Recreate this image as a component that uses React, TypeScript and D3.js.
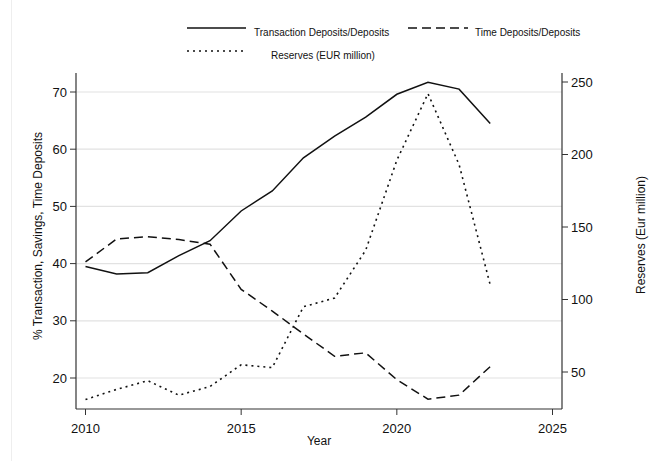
import React from "react";
import * as d3 from "d3";

const years = [2010, 2011, 2012, 2013, 2014, 2015, 2016, 2017, 2018, 2019, 2020, 2021, 2022, 2023];
const transaction = [39.5, 38.2, 38.4, 41.4, 44.0, 49.2, 52.7, 58.5, 62.3, 65.6, 69.6, 71.7, 70.5, 64.5];
const timeDeposits = [40.3, 44.3, 44.7, 44.2, 43.4, 35.5, 31.7, 27.7, 23.8, 24.4, 19.7, 16.3, 17.0, 22.0];
const reserves = [31, 38, 44, 34, 40, 55, 53, 95, 101, 134, 196, 242, 193, 110];
const xTicks = [2010, 2015, 2020, 2025];
const leftTicks = [20, 30, 40, 50, 60, 70];
const rightTicks = [50, 100, 150, 200, 250];

const W = 667, H = 461;
const left = 76, right = 562, bottom = 409, top = 73;

export default function App() {
  const x = d3.scaleLinear().domain([2010, 2025]).range([85.5, 552.5]);
  const yL = d3.scaleLinear().domain([20, 70]).range([378, 92]);
  const yR = d3.scaleLinear().domain([50, 250]).range([372, 82]);
  const lineL = d3.line<number>().x((_, i) => x(years[i])).y((d) => yL(d));
  const lineR = d3.line<number>().x((_, i) => x(years[i])).y((d) => yR(d));
  const font = "'Liberation Sans', Arial, Helvetica, sans-serif";
  return (
    <svg width={W} height={H} style={{ position: "absolute", left: 0, top: 0, background: "#fff" }} fontFamily={font}>
      <rect x={0} y={0} width={W} height={H} fill="#fff" />
      <line x1={11.5} x2={11.5} y1={0} y2={H} stroke="#eeeeee" />
      {leftTicks.map((t) => (
        <line key={"g" + t} x1={left} x2={right} y1={yL(t)} y2={yL(t)} stroke="#e2e2e2" strokeWidth={1.2} />
      ))}
      <path d={lineL(transaction) || ""} fill="none" stroke="#111" strokeWidth={1.5} />
      <path d={lineL(timeDeposits) || ""} fill="none" stroke="#111" strokeWidth={1.5} strokeDasharray="9,5" />
      <path d={lineR(reserves) || ""} fill="none" stroke="#111" strokeWidth={1.6} strokeDasharray="2,4" />
      {/* axes */}
      <line x1={left} x2={left} y1={top} y2={bottom} stroke="#333" strokeWidth={1.2} />
      <line x1={right} x2={right} y1={top} y2={bottom} stroke="#333" strokeWidth={1.2} />
      <line x1={left} x2={right} y1={bottom} y2={bottom} stroke="#333" strokeWidth={1.2} />
      {leftTicks.map((t) => (
        <g key={"l" + t}>
          <line x1={left - 6} x2={left} y1={yL(t)} y2={yL(t)} stroke="#333" />
          <text x={left - 9} y={yL(t)} dy="0.35em" textAnchor="end" fontSize={13} fill="#111">{t}</text>
        </g>
      ))}
      {rightTicks.map((t) => (
        <g key={"r" + t}>
          <line x1={right} x2={right + 6} y1={yR(t)} y2={yR(t)} stroke="#333" />
          <text x={right + 9} y={yR(t)} dy="0.35em" textAnchor="start" fontSize={13} fill="#111">{t}</text>
        </g>
      ))}
      {xTicks.map((t) => (
        <g key={"x" + t}>
          <line x1={x(t)} x2={x(t)} y1={bottom} y2={bottom + 6} stroke="#333" />
          <text x={x(t)} y={428} dy="0.35em" textAnchor="middle" fontSize={13} fill="#111">{t}</text>
        </g>
      ))}
      <text x={319} y={441} dy="0.35em" textAnchor="middle" fontSize={12} fill="#111">Year</text>
      <text transform={`translate(38,${236}) rotate(-90)`} textAnchor="middle" dy="0.35em" fontSize={12} fill="#111">
        % Transaction, Savings, Time Deposits
      </text>
      <text transform={`translate(641,${235}) rotate(-90)`} textAnchor="middle" dy="0.35em" fontSize={12} fill="#111">
        Reserves (Eur million)
      </text>
      {/* legend */}
      <line x1={187} x2={246} y1={28} y2={28} stroke="#111" strokeWidth={1.5} />
      <text x={254} y={32} dy="0.35em" fontSize={10} fill="#111">Transaction Deposits/Deposits</text>
      <line x1={408} x2={468} y1={28} y2={28} stroke="#111" strokeWidth={1.5} strokeDasharray="9,5" />
      <text x={475} y={32} dy="0.35em" fontSize={10} fill="#111">Time Deposits/Deposits</text>
      <line x1={187} x2={246} y1={51} y2={51} stroke="#111" strokeWidth={1.5} strokeDasharray="2,4" />
      <text x={271} y={55} dy="0.35em" fontSize={10} fill="#111">Reserves (EUR million)</text>
    </svg>
  );
}
